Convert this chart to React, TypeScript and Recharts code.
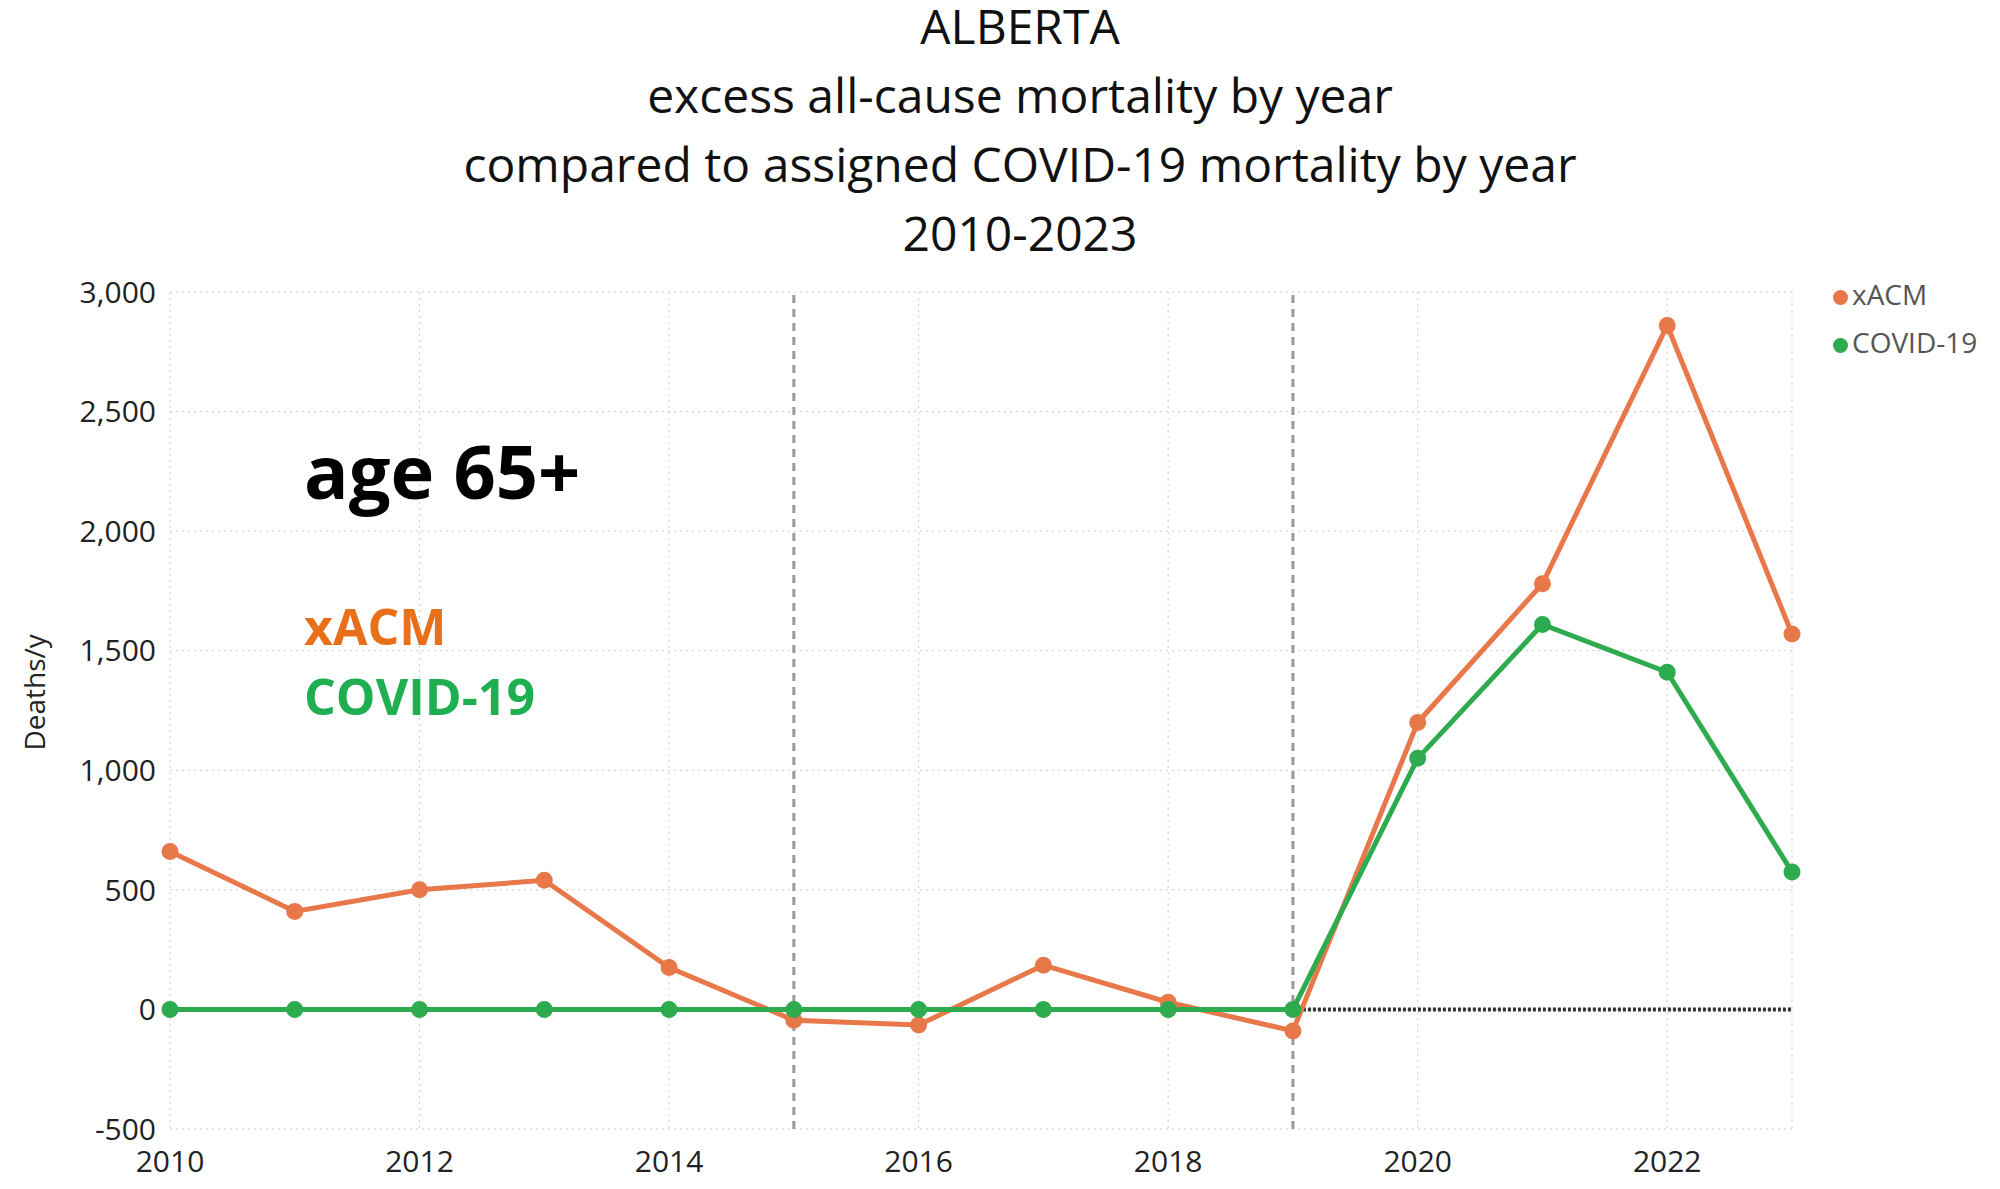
import React from "react";
import { LineChart, Line, XAxis, YAxis, CartesianGrid, ReferenceLine } from "recharts";

const years = [2010, 2011, 2012, 2013, 2014, 2015, 2016, 2017, 2018, 2019, 2020, 2021, 2022, 2023];
const xacm = [660, 410, 500, 540, 175, -45, -65, 185, 30, -90, 1200, 1780, 2860, 1570];
const covid = [0, 0, 0, 0, 0, 0, 0, 0, 0, 0, 1050, 1610, 1410, 575];
const xTicks = [2010, 2012, 2014, 2016, 2018, 2020, 2022];
const yTicks = [-500, 0, 500, 1000, 1500, 2000, 2500, 3000];
const titleLines = ["ALBERTA", "excess all-cause mortality by year", "compared to assigned COVID-19 mortality by year", "2010-2023"];

const ORANGE = "#E8774A";
const GREEN = "#2EAA4F";
const FONT = "'Open Sans', 'Noto Sans', sans-serif";

const data = years.map((y, i) => ({ year: y, xacm: xacm[i], covid: covid[i] }));

export default function App() {
  return (
    <div style={{ position: "relative", width: 2000, height: 1189, margin: -8, background: "#fff", fontFamily: FONT }}>
      {titleLines.map((t, i) => (
        <div key={t} style={{ position: "absolute", left: 0, width: 2040, top: -2 + i * 69, textAlign: "center", fontSize: 48, lineHeight: "56px", color: "#111" }}>
          {t}
        </div>
      ))}
      <LineChart width={2000} height={1189} data={data} margin={{ top: 292, right: 208, bottom: 0, left: 0 }}>
        <CartesianGrid stroke="#ccc" strokeDasharray="2 4" />
        <XAxis dataKey="year" type="number" domain={[2010, 2023]} ticks={xTicks} height={60} axisLine={false} tickLine={false}
          tick={{ fill: "#222", fontSize: 30, fontFamily: FONT }} dy={14} />
        <YAxis domain={[-500, 3000]} ticks={yTicks} width={170} axisLine={false} tickLine={false}
          tickFormatter={(v: number) => v.toLocaleString("en-US")}
          tick={{ fill: "#222", fontSize: 30, fontFamily: FONT }} dx={-6}
          label={{ value: "Deaths/y", angle: -90, position: "insideLeft", dx: 30, dy: 40, style: { fill: "#222", fontSize: 28, fontFamily: FONT } }} />
        <ReferenceLine x={2015} stroke="#999" strokeWidth={3} strokeDasharray="8 6" />
        <ReferenceLine x={2019} stroke="#999" strokeWidth={3} strokeDasharray="8 6" />
        <ReferenceLine segment={[{ x: 2019, y: 0 }, { x: 2023, y: 0 }]} stroke="#333" strokeWidth={4} strokeDasharray="3 2" />
        <Line dataKey="xacm" stroke={ORANGE} strokeWidth={5} dot={{ r: 6, fill: ORANGE, stroke: ORANGE }} isAnimationActive={false} />
        <Line dataKey="covid" stroke={GREEN} strokeWidth={5} dot={{ r: 6, fill: GREEN, stroke: GREEN }} isAnimationActive={false} />
      </LineChart>
      <div style={{ position: "absolute", left: 1833, top: 270, fontSize: 28, color: "#555", lineHeight: "48px" }}>
        <div><span style={{ display: "inline-block", width: 15, height: 15, borderRadius: 8, background: ORANGE, marginRight: 4 }} />xACM</div>
        <div><span style={{ display: "inline-block", width: 15, height: 15, borderRadius: 8, background: GREEN, marginRight: 4 }} />COVID-19</div>
      </div>
      <div style={{ position: "absolute", left: 304, top: 420, fontSize: 74, fontWeight: 700, color: "#000" }}>age 65+</div>
      <div style={{ position: "absolute", left: 304, top: 592, fontSize: 50, fontWeight: 700, color: "#E8701A" }}>xACM</div>
      <div style={{ position: "absolute", left: 304, top: 662, fontSize: 50, fontWeight: 700, color: "#1FAF50" }}>COVID-19</div>
    </div>
  );
}
